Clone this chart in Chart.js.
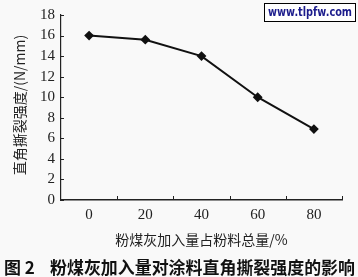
<!DOCTYPE html>
<html>
<head>
<meta charset="utf-8">
<script src="https://cdn.jsdelivr.net/npm/chart.js@4"></script>
<style>
  html, body { margin: 0; padding: 0; background: #f9f9f9; }
  #wrap { width: 358px; height: 277px; }
</style>
</head>
<body>
<div id="wrap"><canvas id="myChart" width="358" height="277"></canvas></div>
<script>
const labels = ['0', '20', '40', '60', '80'];
const strength = [16, 15.6, 14, 10, 6.9];
const yTicks = [0, 2, 4, 6, 8, 10, 12, 14, 16, 18];

const xTitle = '粉煤灰加入量占粉料总量/%';
const yTitle = '直角撕裂强度/(N/mm)';
const figNo = '图 2';
const caption = '粉煤灰加入量对涂料直角撕裂强度的影响';
const mark = 'www.tlpfw.com';

const serif = '"Liberation Serif", "DejaVu Serif", serif';
const cjk = '"Noto Sans CJK SC", sans-serif';

// inward tick marks, titles, caption and the site stamp
const extras = {
  id: 'extras',
  afterDraw(chart) {
    const c = chart.ctx;
    const a = chart.chartArea;
    const x = chart.scales.x, y = chart.scales.y;
    c.save();
    c.strokeStyle = '#222';
    c.lineWidth = 1;
    c.beginPath();
    yTicks.forEach(v => {
      const py = Math.round(y.getPixelForValue(v)) + 0.5;
      c.moveTo(a.left, py); c.lineTo(a.left + 3, py);
    });
    for (let i = 0; i < labels.length; i++) {
      const px = Math.round(x.getPixelForValue(i) + (x.getPixelForValue(1) - x.getPixelForValue(0)) / 2) + 0.5;
      c.moveTo(px, a.bottom); c.lineTo(px, a.bottom - 4);
    }
    c.stroke();

    c.fillStyle = '#222';
    c.textAlign = 'center';
    c.textBaseline = 'middle';
    c.font = '14px ' + cjk;
    c.fillText(xTitle, (a.left + a.right) / 2, 240);

    c.save();
    c.translate(20, 105);
    c.rotate(-Math.PI / 2);
    c.font = '14px ' + cjk;
    c.fillText(yTitle, 0, 0, 146);
    c.restore();

    c.fillStyle = '#111';
    c.textAlign = 'left';
    c.font = 'bold 17px ' + cjk;
    c.fillText(figNo, 4, 268);
    c.fillText(caption, 50, 268, 305);

    c.fillStyle = '#fff';
    c.fillRect(264, 3, 92, 19);
    c.strokeStyle = '#000';
    c.lineWidth = 1;
    c.strokeRect(264.5, 3.5, 91, 18);
    c.fillStyle = '#1c1c8c';
    c.textAlign = 'center';
    c.font = 'bold 13px "DejaVu Sans", sans-serif';
    c.fillText(mark, 310, 13, 84);
    c.restore();
  }
};

const data = {
  labels: labels,
  datasets: [{
    data: strength,
    borderColor: '#111',
    backgroundColor: '#111',
    borderWidth: 2,
    pointStyle: 'rectRot',
    pointRadius: 3.5,
    tension: 0
  }]
};

const config = {
  type: 'line',
  data: data,
  options: {
    responsive: false,
    animation: false,
    layout: { padding: { top: 9, right: 16, left: 0, bottom: 0 } },
    plugins: {
      legend: { display: false },
      tooltip: { enabled: false }
    },
    scales: {
      x: {
        offset: true,
        afterFit: s => { s.height = 77; },
        grid: { display: false, drawTicks: false },
        border: { display: true, color: '#222', width: 1.5 },
        ticks: { color: '#222', padding: 6, font: { family: serif, size: 15 } }
      },
      y: {
        min: 0,
        max: 18,
        afterFit: s => { s.width = 61; },
        afterBuildTicks: s => { s.ticks = yTicks.map(v => ({ value: v })); },
        grid: { display: false, drawTicks: false },
        border: { display: true, color: '#222', width: 1.2 },
        ticks: { color: '#222', padding: 6, autoSkip: false, font: { family: serif, size: 15 } }
      }
    }
  },
  plugins: [extras]
};

const myChart = new Chart(document.getElementById('myChart'), config);
</script>
</body>
</html>
